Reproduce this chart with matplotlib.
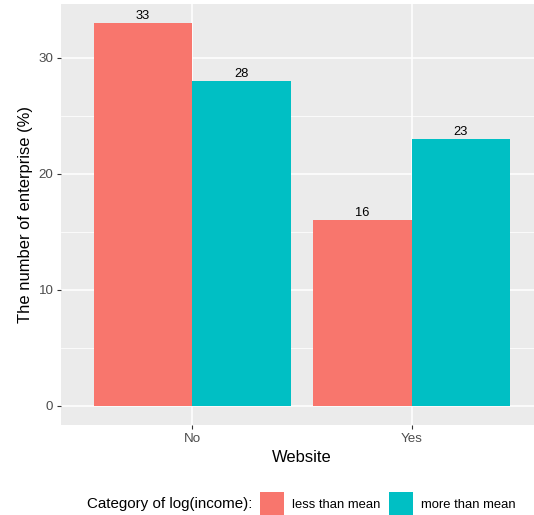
import matplotlib
matplotlib.use("Agg")
import matplotlib.pyplot as plt
import numpy as np

plt.rcParams['font.family'] = ['Liberation Sans', 'DejaVu Sans']

categories = ["No", "Yes"]
groups = ["less than mean", "more than mean"]
values = {
    "less than mean": [33, 16],
    "more than mean": [28, 23],
}
colors = {"less than mean": "#F8766D", "more than mean": "#00BFC4"}
yticks = [0, 10, 20, 30]
minor_yticks = [5, 15, 25]

W, H = 534, 515
fig = plt.figure(figsize=(W / 100, H / 100), dpi=100)
fig.patch.set_facecolor("white")
left, right, top, bottom = 61, 543, 4, 425
ax = fig.add_axes([left / W, 1 - bottom / H, (right - left) / W, (bottom - top) / H])
ax.set_facecolor("#EBEBEB")

x = np.arange(len(categories))
width = 0.45
handles = []
for i, g in enumerate(groups):
    offs = (i - 0.5) * width
    bars = ax.bar(x + offs, values[g], width=width, color=colors[g], zorder=3, label=g)
    handles.append(bars)
    for xi, v in zip(x + offs, values[g]):
        ax.annotate(str(v), (xi, v), xytext=(0, 1.0), textcoords="offset points",
                    ha="center", va="bottom", fontsize=9.3, color="black", zorder=4)

ax.set_xlim(-0.6, 1.6)
ax.set_ylim(-1.65, 34.65)
ax.set_xticks(x)
ax.set_xticklabels(categories)
ax.set_yticks(yticks)
ax.set_yticks(minor_yticks, minor=True)
ax.grid(True, which="major", color="white", lw=1.1, zorder=1)
ax.grid(True, which="minor", axis="y", color="white", lw=0.55, zorder=1)
ax.tick_params(which="major", length=3, width=0.8, color="#333333", labelsize=9.6,
               labelcolor="#4D4D4D", pad=2.5)
ax.tick_params(which="minor", length=0)
for s in ax.spines.values():
    s.set_visible(False)

ax.set_xlabel("Website", fontsize=11.9)
ax.set_ylabel("The number of enterprise (%)", fontsize=11.9)
ax.xaxis.set_label_coords((302 - left) / (right - left), -(450 - bottom) / (bottom - top))
ax.yaxis.set_label_coords(-(left - 33) / (right - left), 0.5)

leg_y = 1 - 504 / H
fig.text(252 / W, leg_y, "Category of log(income):", ha="right", va="center", fontsize=10.9)
leg = fig.legend(handles=handles, labels=groups, loc="center left",
                 bbox_to_anchor=(260 / W, leg_y), ncol=2, frameon=False,
                 fontsize=9.4, handlelength=1.84, handleheight=2.45,
                 handletextpad=0.61, columnspacing=0.69, borderpad=0, borderaxespad=0)

fig.savefig("out.png", dpi=100)
